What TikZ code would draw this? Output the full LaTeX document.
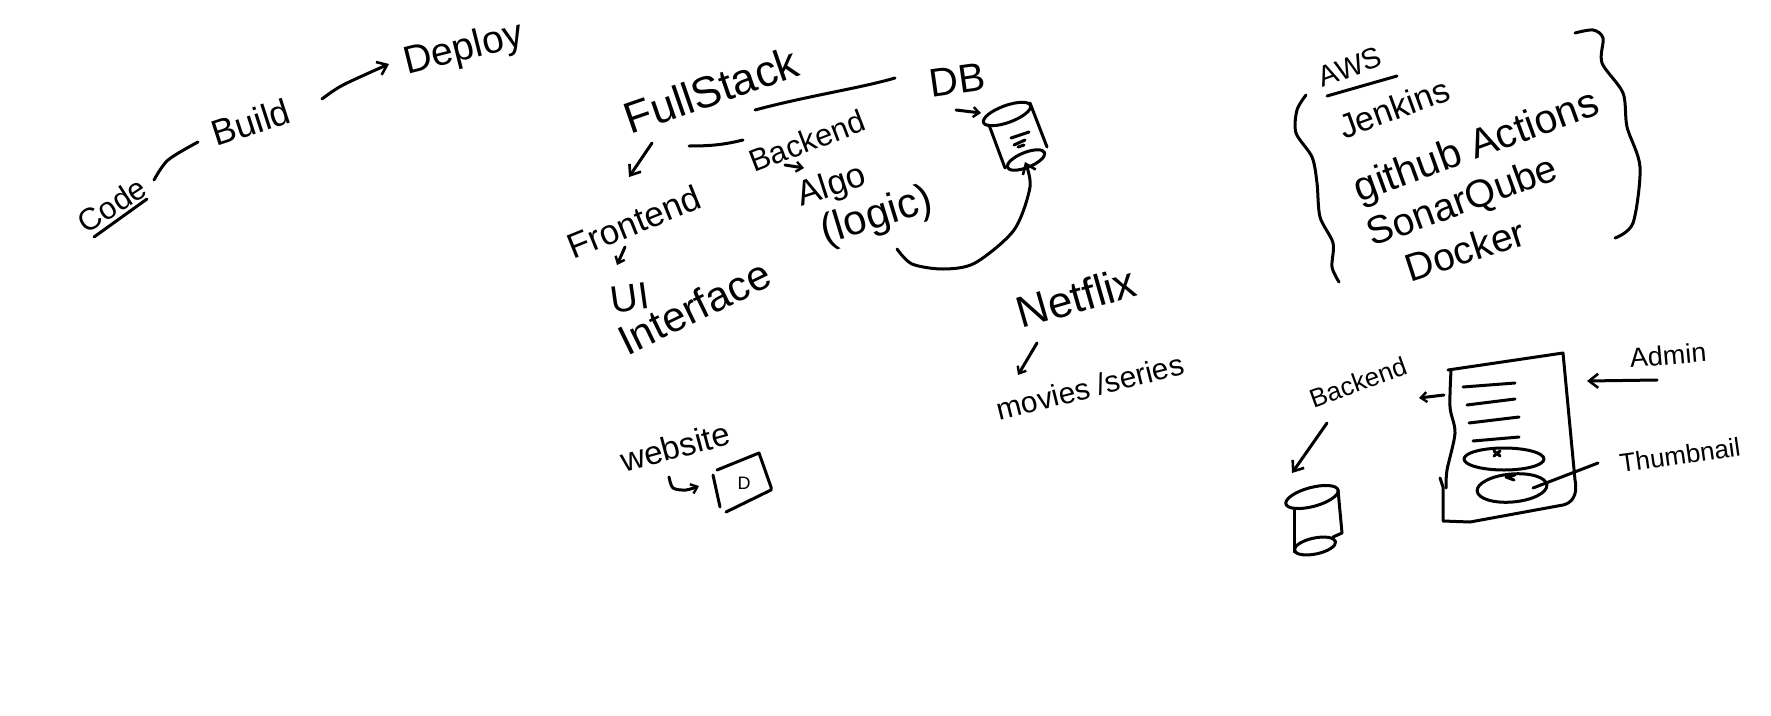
\documentclass[tikz,border=0pt]{standalone}
\usepackage{fontspec}
\setmainfont{Liberation Sans}
\usetikzlibrary{arrows.meta,shapes.geometric}
\tikzset{
  x=1pt,y=-1pt,
  ink/.style={line width=3pt,line cap=round,line join=round,black},
  conn/.style={ink,-{Straight Barb[length=9pt,width=14pt,line width=2.6pt]}},
  minihead/.style={ink,-{Straight Barb[length=6pt,width=10pt,line width=2.4pt]}},
  hand/.style={inner sep=0pt,font=\fontsize{#1}{#1}\selectfont},
  oval/.style={ellipse,ink,draw,inner sep=0pt,minimum width=0pt,minimum height=0pt},
}
\begin{document}
\begin{tikzpicture}
\useasboundingbox (0,0) rectangle (1771,715);
% ---- left flow
\node[hand=31,rotate=33] (code) at (112,205) {Code};
\node[hand=36,rotate=18] (build) at (251,122) {Build};
\node[hand=39,rotate=14] (deploy) at (464,50) {Deploy};
\coordinate (codeout) at (154,180);
\coordinate (buildin) at (198,142);
\coordinate (buildout) at (322,99);
\coordinate (deployin) at (389,64);
\draw[ink] (94,237) -- (147,199);
\draw[ink] plot[smooth] coordinates {(codeout) (168,160) (buildin)};
\draw[conn] plot[smooth] coordinates {(buildout) (343,85) (deployin)};
% ---- full stack
\node[hand=44,rotate=19] (full) at (711,90) {FullStack};
\node[hand=40,rotate=8] (db) at (957,80) {DB};
\node[hand=31,rotate=21] (back) at (807,141) {Backend};
\node[hand=35,rotate=22] (front) at (634,222) {Frontend};
\node[hand=35,rotate=18] (algo) at (832,187) {Algo};
\node[hand=42,rotate=17] (logic) at (877,217) {(logic)};
\node[hand=38,rotate=8] (ui) at (630,298) {UI};
\node[hand=42,rotate=26] (iface) at (694,307) {Interface};
\coordinate (fullout) at (755,110);
\coordinate (dbin) at (895,78);
\draw[ink] (fullout) .. controls (807,96) and (861,88) .. (dbin);
\coordinate (backl) at (743,140);
\coordinate (frontup) at (689,146);
\draw[ink] (backl) .. controls (723,145) and (709,146) .. (frontup);
\coordinate (frontdown) at (652,143);
\coordinate (frontin) at (629,177);
\draw[conn] (frontdown) -- (frontin);
\coordinate (frontb) at (625,247);
\coordinate (uiin) at (617,265);
\draw[minihead] (frontb) -- (uiin);
\coordinate (backb) at (785,165);
\coordinate (algoin) at (804,168);
\draw[minihead] (backb) -- (algoin);
\coordinate (dbs) at (956,110);
\coordinate (cylin) at (981,113);
\draw[minihead] (dbs) -- (cylin);
% DB cylinder
\node[oval,minimum width=50pt,minimum height=17pt,rotate=20] (dbtop) at (1007,114) {};
\node[oval,minimum width=40pt,minimum height=15pt,rotate=22] (dbbot) at (1026,160) {};
\draw[ink] (989,125) -- (1005,168);
\draw[ink] (1030,103) -- (1047,147);
\draw[ink] (1011,138) -- (1029,132);
\draw[ink] (1014,145) -- (1025,140);
\draw[ink] (1018,147) -- (1024,145);
\coordinate (logicout) at (897,249);
\coordinate (dbbotin) at (1025,162);
\draw[conn] plot[smooth] coordinates {(logicout) (912,264) (943,269) (975,263) (1014,230) (1030,187) (dbbotin)};
% ---- website
\node[hand=33,rotate=15] (site) at (675,447) {website};
\node[hand=18] (d) at (744,483) {D};
\draw[ink] (713,475) -- (720,507);
\draw[ink] (717,470) -- (759,453) -- (771,487) -- (771,490) -- (726,512);
\coordinate (siteout) at (669,477);
\coordinate (boxin) at (699,486);
\draw[minihead] plot[smooth] coordinates {(siteout) (673,488) (686,490) (boxin)};
% ---- netflix
\node[hand=44,rotate=16] (net) at (1076,297) {Netflix};
\node[hand=30,rotate=14] (movies) at (1090,387) {movies /series};
\coordinate (netb) at (1037,343);
\coordinate (moviesin) at (1018,375);
\draw[minihead] (netb) -- (moviesin);
% ---- AWS
\node[hand=29,rotate=20] (aws) at (1350,67) {AWS};
\node[hand=34,rotate=20] (jenk) at (1394,108) {Jenkins};
\node[hand=41,rotate=20] (gh) at (1477,148) {github Actions};
\node[hand=39,rotate=20] (sonar) at (1463,203) {SonarQube};
\node[hand=39,rotate=18] (docker) at (1465,250) {Docker};
\draw[ink] (1327,96) -- (1397,76);
\draw[ink] plot[smooth] coordinates {(1306,95) (1297,110) (1296,133) (1312,157) (1317,183) (1320,217) (1333,243) (1332,267) (1339,282)};
\draw[ink] plot[smooth] coordinates {(1575,33) (1593,30) (1603,38) (1602,63) (1623,93) (1627,127) (1640,167) (1633,223) (1615,238)};
% ---- admin page
\node[hand=26,rotate=20] (back2) at (1358,382) {Backend};
\node[hand=27,rotate=5] (admin) at (1668,355) {Admin};
\node[hand=26,rotate=8] (thumb) at (1680,455) {Thumbnail};
\coordinate (backb2) at (1327,423);
\coordinate (cyl2in) at (1292,473);
\draw[conn] (backb2) -- (cyl2in);
\node[oval,minimum width=54pt,minimum height=19pt,rotate=15] (cyltop) at (1312,497) {};
\node[oval,minimum width=42pt,minimum height=16pt,rotate=12] (cylbot) at (1315,546) {};
\draw[ink] (1294,510) -- (1294,552);
\draw[ink] (1338,490) -- (1342,533) -- (1333,537);
\draw[ink] (1448,370) -- (1563,353) -- (1575,480) .. controls (1578,495) and (1572,503) .. (1563,505) -- (1470,522) -- (1443,521) -- (1443,487) -- (1440,478);
\draw[ink] plot[smooth] coordinates {(1451,370) (1450,407) (1455,433) (1447,470) (1446,488)};
\draw[ink] (1463,387) -- (1515,383);
\draw[ink] (1467,405) -- (1515,399);
\draw[ink] (1469,423) -- (1519,417);
\draw[ink] (1473,441) -- (1519,437);
\node[oval,minimum width=80pt,minimum height=22pt] (o1) at (1504,459) {};
\node[oval,minimum width=70pt,minimum height=28pt,rotate=5] (o2) at (1512,488) {};
\draw[ink] (1494,451) -- (1500,456);
\draw[ink] (1500,451) -- (1494,456);
\draw[ink] (1515,475) -- (1506,477) -- (1514,480);
\coordinate (docl) at (1444,395);
\coordinate (backin2) at (1419,398);
\draw[minihead] (docl) -- (backin2);
\coordinate (adminout) at (1657,380);
\coordinate (docr) at (1587,381);
\draw[conn] (adminout) -- (docr);
\coordinate (thumbout) at (1598,463);
\coordinate (o2in) at (1533,488);
\draw[ink] (thumbout) -- (o2in);
\end{tikzpicture}
\end{document}
